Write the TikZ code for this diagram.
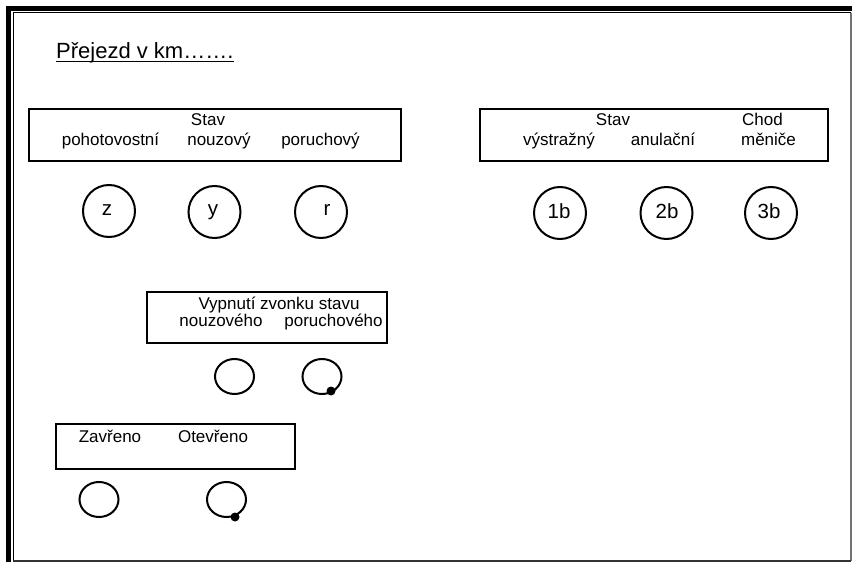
\documentclass[tikz,border=0pt]{standalone}
\usepackage{fontspec}
\setmainfont{Liberation Sans}
\usetikzlibrary{shapes.geometric}
\begin{document}
\begin{tikzpicture}[x=1bp,y=-1bp,
 panel/.style={draw,line width=1.5bp,inner sep=0},
 lamp/.style={draw,line width=2bp,circle,minimum size=52bp,inner sep=0},
 smalllamp/.style={draw,line width=2bp,ellipse,minimum width=39bp,minimum height=35bp,inner sep=0},
 txt/.style={anchor=base,inner sep=0,font=\fontsize{17bp}{20bp}\selectfont},
 lbl/.style={anchor=base,inner sep=0,font=\fontsize{20.5bp}{24bp}\selectfont},
 knob/.style={circle,fill,inner sep=0,minimum size=9bp}]
\useasboundingbox[fill=white] (0,0) rectangle (852,562);
% frame
\draw[line width=5bp] (8.5,562) -- (8.5,8.5) -- (852,8.5);
\draw[line width=1bp] (13,562) -- (13,13) -- (851,13);
\draw[line width=1.2bp,black!55] (851,13) -- (851,561);
\draw[line width=1.2bp,black!80] (13,561) -- (851,561);
% title
\node[anchor=base west,inner sep=0,font=\fontsize{22bp}{26bp}\selectfont] (title) at (56,59) {Přejezd v km…….};
\draw[line width=1.3bp] ([yshift=-2.5bp]title.base west) -- ([yshift=-2.5bp]title.base east);
% panel 1
\node[panel,minimum width=372bp,minimum height=52bp] (p1) at (215,135) {};
\node[txt] (s1) at (208,126) {Stav};
\node[txt] (t1) at (110.5,146) {pohotovostní};
\node[txt] (t2) at (219,146) {nouzový};
\node[txt] (t3) at (320.5,146) {poruchový};
% panel 2
\node[panel,minimum width=348bp,minimum height=52bp] (p2) at (654,135) {};
\node[txt] (s2) at (613,126) {Stav};
\node[txt] (t4) at (559,146) {výstražný};
\node[txt] (t5) at (663,146) {anulační};
\node[txt] (c1) at (762.5,126) {Chod};
\node[txt] (t6) at (768.5,146) {měniče};
% lamps row
\node[lamp] (lz) at (109,211) {};
\node[lamp] (ly) at (214.5,212) {};
\node[lamp] (lr) at (321,212) {};
\node[lamp] (l1) at (560,213) {};
\node[lamp] (l2) at (666.5,213) {};
\node[lamp] (l3) at (771,213) {};
\node[lbl] (nz) at (107,216) {z};
\node[lbl] (ny) at (213,216) {y};
\node[lbl] (nr) at (327,216) {r};
\node[lbl] (n1) at (559,218.5) {1b};
\node[lbl] (n2) at (667,218.5) {2b};
\node[lbl] (n3) at (769,218.5) {3b};
% panel 3
\node[panel,minimum width=240bp,minimum height=51bp] (p3) at (267,317.5) {};
\node[txt] (v1) at (279,309.5) {Vypnutí zvonku stavu};
\node[txt] (v2) at (221,327) {nouzového};
\node[txt] (v3) at (333.5,327) {poruchového};
\node[smalllamp] (sw1) at (234.5,376.5) {};
\node[smalllamp] (sw2) at (322,376.5) {};
\node[knob] (k1) at (331,391) {};
% panel 4
\node[panel,minimum width=239bp,minimum height=45bp] (p4) at (175.5,446.5) {};
\node[txt] (z1) at (110,442) {Zavřeno};
\node[txt] (z2) at (213,442) {Otevřeno};
\node[smalllamp] (sw3) at (99,499.5) {};
\node[smalllamp] (sw4) at (226.5,499.5) {};
\node[knob] (k2) at (235,517) {};
\end{tikzpicture}
\end{document}
